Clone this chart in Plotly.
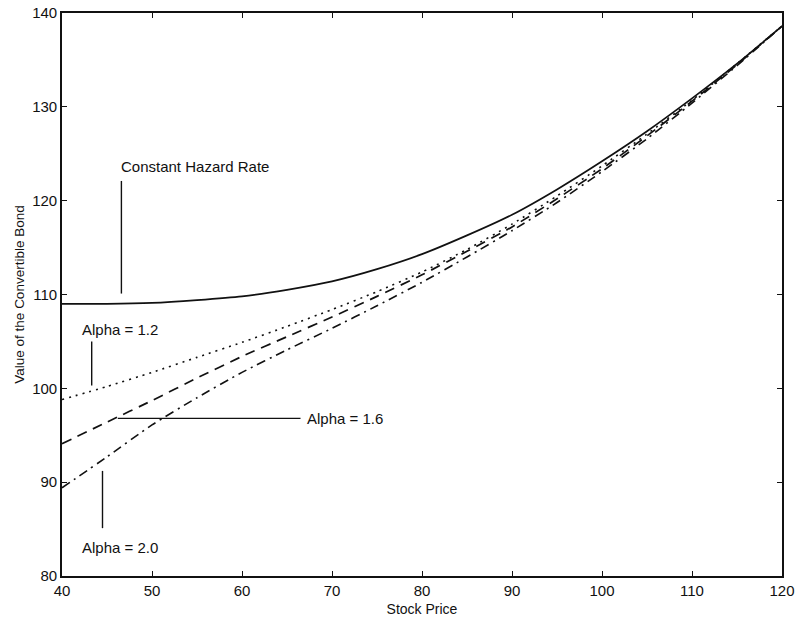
import plotly.graph_objects as go

# Stock price grid shared by all curves
stock_price = [40, 45, 50, 55, 60, 65, 70, 75, 80, 85, 90, 95, 100, 105, 110, 115, 120]

# Convertible bond value under each default model
constant_hazard = [109.0, 109.0, 109.1, 109.4, 109.8, 110.5, 111.4, 112.7, 114.3,
                   116.3, 118.5, 121.2, 124.2, 127.4, 130.9, 134.6, 138.6]
alpha_1_2 = [98.8, 100.2, 101.7, 103.3, 104.9, 106.6, 108.4, 110.3, 112.4,
             114.8, 117.5, 120.5, 123.7, 127.1, 130.7, 134.6, 138.6]
alpha_1_6 = [94.1, 96.4, 98.7, 101.1, 103.4, 105.5, 107.6, 109.8, 112.1,
             114.6, 117.2, 120.2, 123.4, 126.9, 130.6, 134.5, 138.6]
alpha_2_0 = [89.4, 92.7, 96.1, 99.0, 101.7, 104.1, 106.4, 108.8, 111.3,
             114.0, 116.8, 119.8, 123.1, 126.6, 130.4, 134.4, 138.6]

x_ticks = [40, 50, 60, 70, 80, 90, 100, 110, 120]
y_ticks = [80, 90, 100, 110, 120, 130, 140]

FONT = "Liberation Sans, Arial, Helvetica, sans-serif"
INK = "#111111"

fig = go.Figure()

series = [
    (constant_hazard, "solid", 1.7, "Constant Hazard Rate"),
    (alpha_1_2, "2px,5px", 1.6, "Alpha = 1.2"),
    (alpha_1_6, "10px,7px", 1.7, "Alpha = 1.6"),
    (alpha_2_0, "9px,5px,2px,5px", 1.6, "Alpha = 2.0"),
]
for values, dash, width, name in series:
    fig.add_trace(go.Scatter(
        x=stock_price, y=values, mode="lines", name=name,
        line=dict(color=INK, width=width, dash=dash, shape="spline", smoothing=0.6),
        showlegend=False,
    ))

# Leader lines from each label to its curve
leaders = [
    (46.6, 122.1, 46.6, 110.1),
    (43.3, 105.0, 43.3, 100.3),
    (46.2, 96.8, 66.5, 96.8),
    (44.5, 91.2, 44.5, 85.1),
]
for x0, y0, x1, y1 in leaders:
    fig.add_shape(type="line", xref="x", yref="y", x0=x0, y0=y0, x1=x1, y1=y1,
                  line=dict(color=INK, width=1.4))

labels = [
    (46.7, 123.6, "Constant Hazard Rate"),
    (42.3, 106.3, "Alpha = 1.2"),
    (67.3, 96.8, "Alpha = 1.6"),
    (42.3, 83.0, "Alpha = 2.0"),
]
for x, y, text in labels:
    fig.add_annotation(x=x, y=y, xref="x", yref="y", text=text, showarrow=False,
                       xanchor="left", yanchor="middle", xshift=-3,
                       font=dict(family=FONT, size=15, color=INK))

axis_common = dict(
    showline=True, linecolor=INK, linewidth=1.6, mirror="ticks",
    ticks="inside", ticklen=5, tickcolor=INK, tickwidth=1.2,
    showgrid=False, zeroline=False, automargin=False,
    tickfont=dict(family=FONT, size=15, color=INK),
)

fig.update_xaxes(range=[40, 120], tickvals=x_ticks, ticktext=[str(v) for v in x_ticks],
                 title=dict(text="Stock Price", font=dict(family=FONT, size=14, color=INK),
                            standoff=6),
                 **axis_common)
fig.update_yaxes(range=[80, 140], tickvals=y_ticks, ticktext=[str(v) for v in y_ticks],
                 title=dict(text="Value of the Convertible Bond",
                            font=dict(family=FONT, size=13.5, color=INK), standoff=4),
                 **axis_common)

fig.update_layout(
    width=797, height=620,
    margin=dict(l=62, r=15, t=13, b=44, autoexpand=False),
    paper_bgcolor="white", plot_bgcolor="white",
)

fig.write_html("out.html")
